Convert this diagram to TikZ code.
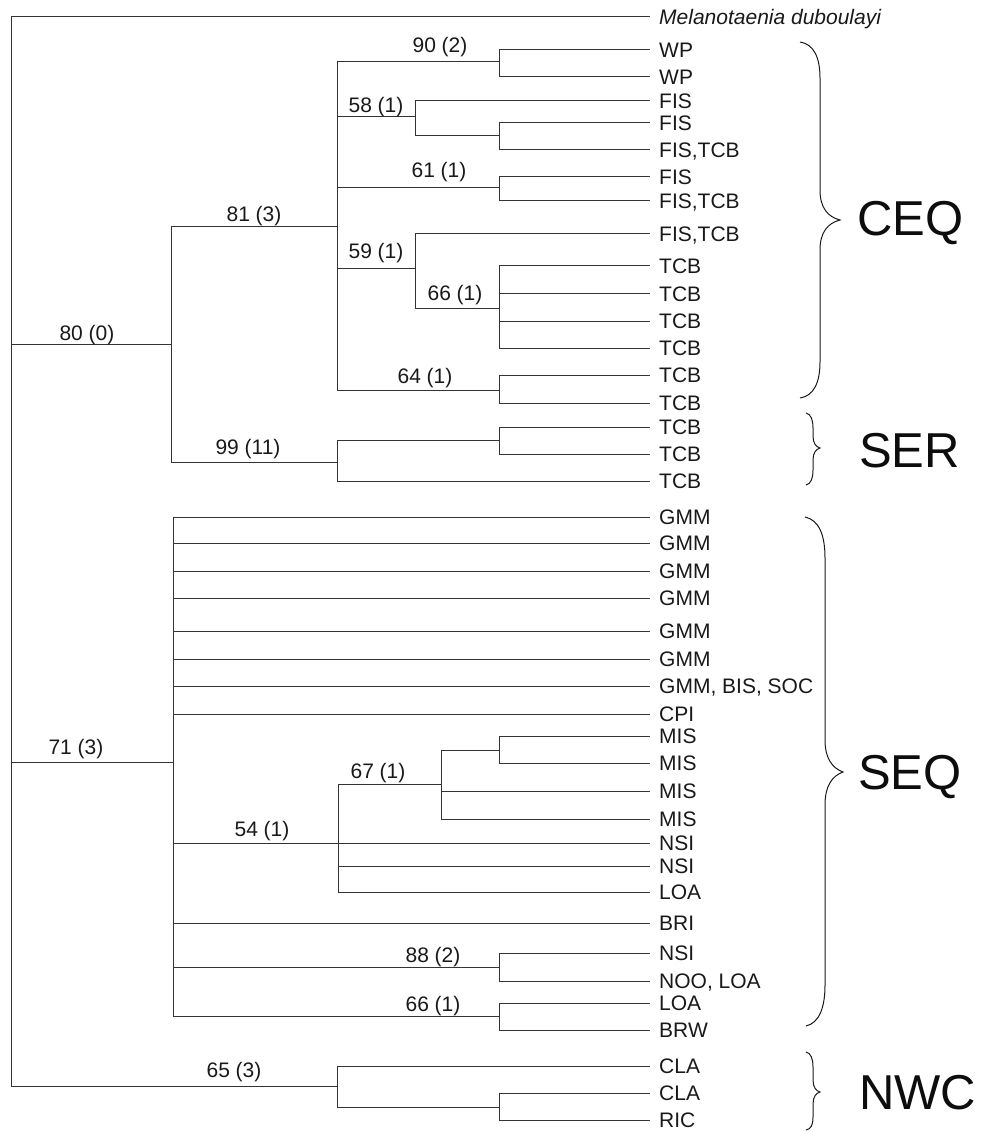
\documentclass[tikz,border=0pt]{standalone}
\usepackage{fontspec}
\setmainfont{Liberation Sans}
\begin{document}
\begin{tikzpicture}[x=1pt,y=-1pt,
  branch/.style={draw=black!80, line width=1pt},
  leaf/.style={anchor=west, inner xsep=9pt, inner ysep=0pt, text height=15pt, text depth=0pt, font=\fontsize{21}{25}\selectfont, text=black!90},
  support/.style={anchor=base, inner sep=0pt, font=\fontsize{21}{25}\selectfont, text=black!90},
  clade/.style={anchor=west, inner sep=0pt, text height=35pt, text depth=0pt, font=\fontsize{49}{55}\selectfont, text=black!95},
  bracepath/.style={draw=black!90, line width=1pt}]
\useasboundingbox (0,0) rectangle (982,1131);
% leaves
\node[leaf] (mel) at (650,17) {\itshape Melanotaenia duboulayi};
\node[leaf] (c1) at (650,50) {WP};
\node[leaf] (c2) at (650,77) {WP};
\node[leaf] (c3) at (650,101) {FIS};
\node[leaf] (c4) at (650,123) {FIS};
\node[leaf] (c5) at (650,150) {FIS,TCB};
\node[leaf] (c6) at (650,177) {FIS};
\node[leaf] (c7) at (650,201) {FIS,TCB};
\node[leaf] (c8) at (650,234) {FIS,TCB};
\node[leaf] (c9) at (650,266) {TCB};
\node[leaf] (c10) at (650,294) {TCB};
\node[leaf] (c11) at (650,321) {TCB};
\node[leaf] (c12) at (650,348) {TCB};
\node[leaf] (c13) at (650,375) {TCB};
\node[leaf] (c14) at (650,403) {TCB};
\node[leaf] (s1) at (650,427) {TCB};
\node[leaf] (s2) at (650,454) {TCB};
\node[leaf] (s3) at (650,481) {TCB};
\node[leaf] (q1) at (650,517) {GMM};
\node[leaf] (q2) at (650,543) {GMM};
\node[leaf] (q3) at (650,571) {GMM};
\node[leaf] (q4) at (650,598) {GMM};
\node[leaf] (q5) at (650,631) {GMM};
\node[leaf] (q6) at (650,659) {GMM};
\node[leaf] (q7) at (650,686) {GMM, BIS, SOC};
\node[leaf] (q8) at (650,714) {CPI};
\node[leaf] (q9) at (650,736) {MIS};
\node[leaf] (q10) at (650,763) {MIS};
\node[leaf] (q11) at (650,791) {MIS};
\node[leaf] (q12) at (650,819) {MIS};
\node[leaf] (q13) at (650,843) {NSI};
\node[leaf] (q14) at (650,866) {NSI};
\node[leaf] (q15) at (650,892) {LOA};
\node[leaf] (q16) at (650,923) {BRI};
\node[leaf] (q17) at (650,953) {NSI};
\node[leaf] (q18) at (650,981) {NOO, LOA};
\node[leaf] (q19) at (650,1003) {LOA};
\node[leaf] (q20) at (650,1030) {BRW};
\node[leaf] (w1) at (650,1066) {CLA};
\node[leaf] (w2) at (650,1093) {CLA};
\node[leaf] (w3) at (650,1120) {RIC};
% internal nodes
\coordinate (root) at (11,500);
\coordinate (nA) at (171,344);
\coordinate (nB) at (337,227);
\coordinate (nC) at (337,462);
\coordinate (n90) at (499,62);
\coordinate (n58) at (415,117);
\coordinate (n58b) at (499,136);
\coordinate (n61) at (499,188);
\coordinate (n59) at (415,269);
\coordinate (n66a) at (499,308);
\coordinate (n64) at (499,390);
\coordinate (n99) at (499,440);
\coordinate (nD) at (173,762);
\coordinate (n54) at (338,843);
\coordinate (n67) at (441,784);
\coordinate (n67b) at (499,750);
\coordinate (n88) at (499,967);
\coordinate (n66b) at (499,1016);
\coordinate (nE) at (337,1086);
\coordinate (nEb) at (499,1107);
% branches
\draw[branch] (root) |- (mel.west);
\draw[branch] (root) |- (nA);
\draw[branch] (root) |- (nD);
\draw[branch] (root) |- (nE);
\draw[branch] (nA) |- (nB);
\draw[branch] (nA) |- (nC);
\draw[branch] (nB) |- (n90);
\draw[branch] (nB) |- (n58);
\draw[branch] (nB) |- (n61);
\draw[branch] (nB) |- (n59);
\draw[branch] (nB) |- (n64);
\draw[branch] (n90) |- (c1.west);
\draw[branch] (n90) |- (c2.west);
\draw[branch] (n58) |- (c3.west);
\draw[branch] (n58) |- (n58b);
\draw[branch] (n58b) |- (c4.west);
\draw[branch] (n58b) |- (c5.west);
\draw[branch] (n61) |- (c6.west);
\draw[branch] (n61) |- (c7.west);
\draw[branch] (n59) |- (c8.west);
\draw[branch] (n59) |- (n66a);
\draw[branch] (n66a) |- (c9.west);
\draw[branch] (n66a) |- (c10.west);
\draw[branch] (n66a) |- (c11.west);
\draw[branch] (n66a) |- (c12.west);
\draw[branch] (n64) |- (c13.west);
\draw[branch] (n64) |- (c14.west);
\draw[branch] (nC) |- (n99);
\draw[branch] (nC) |- (s3.west);
\draw[branch] (n99) |- (s1.west);
\draw[branch] (n99) |- (s2.west);
\foreach \l in {q1,q2,q3,q4,q5,q6,q7,q8,q16} \draw[branch] (nD) |- (\l.west);
\draw[branch] (nD) |- (n54);
\draw[branch] (nD) |- (n88);
\draw[branch] (nD) |- (n66b);
\draw[branch] (n54) |- (n67);
\draw[branch] (n54) |- (q13.west);
\draw[branch] (n54) |- (q14.west);
\draw[branch] (n54) |- (q15.west);
\draw[branch] (n67) |- (n67b);
\draw[branch] (n67) |- (q11.west);
\draw[branch] (n67) |- (q12.west);
\draw[branch] (n67b) |- (q9.west);
\draw[branch] (n67b) |- (q10.west);
\draw[branch] (n88) |- (q17.west);
\draw[branch] (n88) |- (q18.west);
\draw[branch] (n66b) |- (q19.west);
\draw[branch] (n66b) |- (q20.west);
\draw[branch] (nE) |- (w1.west);
\draw[branch] (nE) |- (nEb);
\draw[branch] (nEb) |- (w2.west);
\draw[branch] (nEb) |- (w3.west);
% support values
\node[support] (b90) at (440,53) {90 (2)};
\node[support] (b58) at (376,113) {58 (1)};
\node[support] (b61) at (439,178) {61 (1)};
\node[support] (b81) at (254,222) {81 (3)};
\node[support] (b59) at (376,259) {59 (1)};
\node[support] (b66a) at (455,301) {66 (1)};
\node[support] (b80) at (87,340) {80 (0)};
\node[support] (b64) at (425,383) {64 (1)};
\node[support] (b99) at (248,454) {99 (11)};
\node[support] (b71) at (76,754) {71 (3)};
\node[support] (b67) at (378,778) {67 (1)};
\node[support] (b54) at (262,836) {54 (1)};
\node[support] (b88) at (433,962) {88 (2)};
\node[support] (b66b) at (433,1011) {66 (1)};
\node[support] (b65) at (234,1077) {65 (3)};
% braces
\draw[bracepath] (800,42) .. controls (814,44) and (820,58) .. (820,78) -- (820,190) .. controls (820,208) and (828,217) .. (840,220) .. controls (828,223) and (820,232) .. (820,250) -- (820,362) .. controls (820,382) and (814,396) .. (800,398);
\draw[bracepath] (806,413) .. controls (811,414) and (813,420) .. (813,428) -- (813,436) .. controls (813,443) and (816,447) .. (820,448) .. controls (816,449) and (813,453) .. (813,460) -- (813,470) .. controls (813,478) and (811,484) .. (806,485);
\draw[bracepath] (805,517) .. controls (819,520) and (825,535) .. (825,558) -- (825,740) .. controls (825,758) and (832,768) .. (843,772) .. controls (832,776) and (825,786) .. (825,805) -- (825,985) .. controls (825,1008) and (819,1023) .. (806,1026);
\draw[bracepath] (806,1052) .. controls (811,1053) and (813,1059) .. (813,1067) -- (813,1080) .. controls (813,1087) and (816,1091) .. (820,1092) .. controls (816,1093) and (813,1097) .. (813,1104) -- (813,1117) .. controls (813,1125) and (811,1129) .. (806,1130);
% clade labels
\node[clade] (ceq) at (857,218) {CEQ};
\node[clade] (ser) at (859,450) {SER};
\node[clade] (seq) at (858,772) {SEQ};
\node[clade] (nwc) at (859,1092) {NWC};
\end{tikzpicture}
\end{document}
